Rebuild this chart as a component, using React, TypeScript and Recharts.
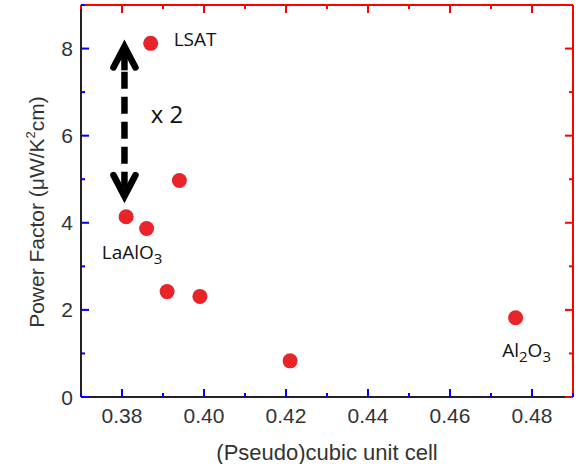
import React from 'react';
import { ScatterChart, Scatter, XAxis, YAxis, ReferenceLine, ReferenceDot } from 'recharts';

// (pseudo)cubic unit cell (nm) vs power factor
const cellSize = [0.387, 0.394, 0.381, 0.386, 0.391, 0.399, 0.421, 0.476];
const powerFactor = [8.12, 4.97, 4.14, 3.87, 2.42, 2.31, 0.83, 1.82];

const xTicks = [0.37, 0.38, 0.39, 0.4, 0.41, 0.42, 0.43, 0.44, 0.45, 0.46, 0.47, 0.48, 0.49];
const yTicks = [0, 1, 2, 3, 4, 5, 6, 7, 8, 9];

const substrates = ['LSAT', 'LaAlO3', 'Al2O3'];
const substrateX = [0.387, 0.381, 0.476];
const substrateY = [8.12, 4.14, 1.82];

const arrowX = 0.3806;
const arrowTop = 8.14;
const arrowBottom = 4.52;

const points = cellSize.map((x, i) => ({ x, y: powerFactor[i] }));

const X_MIN = 0.37;
const X_MAX = 0.49;
const Y_MIN = 0;
const Y_MAX = 9;

const tickFont = '"Liberation Sans", Arial, sans-serif';
const noteFont = '"Open Sans", sans-serif';

const isMajorX = (v: number) => Math.round(v * 100) % 2 === 0;
const isMajorY = (v: number) => v % 2 === 0;

const XLabel = (p: any) => {
  const v = p.payload.value;
  const len = isMajorX(v) ? 8 : 4;
  return (
    <g>
      <line x1={p.x} y1={p.y} x2={p.x} y2={p.y - len} stroke="blue" strokeWidth={2} />
      {isMajorX(v) && (
        <text x={p.x} y={p.y + 26} textAnchor="middle" fontSize={21} fill="#333" fontFamily={tickFont}>
          {v.toFixed(2)}
        </text>
      )}
    </g>
  );
};

const YLabel = (p: any) => {
  const v = p.payload.value;
  const len = isMajorY(v) ? 8 : 4;
  return (
    <g>
      <line x1={p.x} y1={p.y} x2={p.x + len} y2={p.y} stroke="blue" strokeWidth={2} />
      {isMajorY(v) && (
        <text x={p.x - 8} y={p.y + 7.5} textAnchor="end" fontSize={21} fill="#333" fontFamily={tickFont}>
          {v}
        </text>
      )}
    </g>
  );
};

const TickMark = (len: number, dx: number, dy: number) => (p: any) => (
  <polyline
    points={`${p.cx},${p.cy} ${p.cx + dx * len},${p.cy + dy * len}`}
    fill="none"
    stroke="red"
    strokeWidth={2}
  />
);

const noteOffset: Record<string, { dx: number; dy: number; anchor: string }> = {
  LSAT: { dx: 23, dy: 3, anchor: 'start' },
  LaAlO3: { dx: 6, dy: 42, anchor: 'middle' },
  Al2O3: { dx: 11, dy: 39, anchor: 'middle' },
};

const Note = (name: string) => (p: any) => {
  const o = noteOffset[name];
  let body: React.ReactNode = name;
  if (name === 'LaAlO3') {
    body = (
      <>
        LaAlO<tspan fontSize={15} dy={5}>3</tspan>
      </>
    );
  } else if (name === 'Al2O3') {
    body = (
      <>
        Al<tspan fontSize={15} dy={5}>2</tspan>
        <tspan dy={-5}>O</tspan>
        <tspan fontSize={15} dy={5}>3</tspan>
      </>
    );
  }
  return (
    <text x={p.cx + o.dx} y={p.cy + o.dy} textAnchor={o.anchor} fontSize={19} fill="#111" fontFamily={noteFont}>
      {body}
    </text>
  );
};

const Chevron = (up: boolean) => (p: any) => {
  const s = up ? 1 : -1;
  return (
    <polyline
      points={`${p.cx - 11},${p.cy + s * 25} ${p.cx},${p.cy + s * 4} ${p.cx + 11},${p.cy + s * 25}`}
      fill="none"
      stroke="#000"
      strokeWidth={6.5}
      strokeLinecap="round"
      strokeLinejoin="miter"
    />
  );
};

export default function App() {
  return (
    <div style={{ position: 'absolute', left: 0, top: 0, width: 585, height: 464 }}>
      <ScatterChart width={585} height={464} margin={{ top: 5, right: 12, left: 0, bottom: 0 }}>
        <XAxis
          dataKey="x"
          type="number"
          domain={[X_MIN, X_MAX]}
          ticks={xTicks}
          interval={0}
          height={67}
          tickSize={0}
          tickMargin={0}
          axisLine={{ stroke: '#222222', strokeWidth: 2 }}
          tick={XLabel}
          label={{
            content: () => (
              <text x={327} y={460} textAnchor="middle" fontSize={22} fill="#333" fontFamily={tickFont}>
                (Pseudo)cubic unit cell
              </text>
            ),
          }}
        />
        <YAxis
          dataKey="y"
          type="number"
          domain={[Y_MIN, Y_MAX]}
          ticks={yTicks}
          interval={0}
          width={81}
          tickSize={0}
          tickMargin={0}
          axisLine={{ stroke: '#222222', strokeWidth: 2 }}
          tick={YLabel}
          label={{
            content: () => (
              <text
                transform="translate(44,212) rotate(-90)"
                textAnchor="middle"
                fontSize={21}
                fill="#333"
                fontFamily={tickFont}
              >
                Power Factor (μW/K<tspan fontSize={13} dy={-9}>2</tspan>
                <tspan dy={9}>cm)</tspan>
              </text>
            ),
          }}
        />
        <ReferenceLine
          segment={[
            { x: X_MIN, y: Y_MAX },
            { x: X_MAX, y: Y_MAX },
          ]}
          stroke="red"
          strokeWidth={2}
          ifOverflow="visible"
        />
        <ReferenceLine
          segment={[
            { x: X_MAX, y: Y_MIN },
            { x: X_MAX, y: Y_MAX },
          ]}
          stroke="red"
          strokeWidth={2}
          ifOverflow="visible"
        />
        {xTicks.map((t) => (
          <ReferenceDot key={'t' + t} x={t} y={Y_MAX} r={0} ifOverflow="visible" shape={TickMark(isMajorX(t) ? 8 : 4, 0, 1)} />
        ))}
        {yTicks.map((t) => (
          <ReferenceDot key={'r' + t} x={X_MAX} y={t} r={0} ifOverflow="visible" shape={TickMark(isMajorY(t) ? 8 : 4, -1, 0)} />
        ))}
        <ReferenceLine
          segment={[
            { x: arrowX, y: 7.47 },
            { x: arrowX, y: 4.78 },
          ]}
          stroke="#000"
          strokeWidth={6.5}
          strokeDasharray="17 8"
          ifOverflow="visible"
        />
        <ReferenceLine
          segment={[
            { x: arrowX, y: 7.9 },
            { x: arrowX, y: 7.5 },
          ]}
          stroke="#000"
          strokeWidth={6.5}
        />
        <ReferenceLine
          segment={[
            { x: arrowX, y: 4.75 },
            { x: arrowX, y: 4.6 },
          ]}
          stroke="#000"
          strokeWidth={6.5}
        />
        <ReferenceDot x={arrowX} y={arrowTop} r={0} shape={Chevron(true)} ifOverflow="visible" />
        <ReferenceDot x={arrowX} y={arrowBottom} r={0} shape={Chevron(false)} ifOverflow="visible" />
        <ReferenceDot
          x={0.387}
          y={6.49}
          r={0}
          ifOverflow="visible"
          shape={(p: any) => (
            <text x={p.cx} y={p.cy + 9} fontSize={24} fill="#111" fontFamily={noteFont}>
              x 2
            </text>
          )}
        />
        <Scatter
          data={points}
          fill="#e8242a"
          isAnimationActive={false}
          shape={(p: any) => <circle cx={p.cx} cy={p.cy} r={7.5} fill="#e8242a" />}
        />
        {substrates.map((name, i) => (
          <ReferenceDot key={name} x={substrateX[i]} y={substrateY[i]} r={0} shape={Note(name)} ifOverflow="visible" />
        ))}
      </ScatterChart>
    </div>
  );
}
